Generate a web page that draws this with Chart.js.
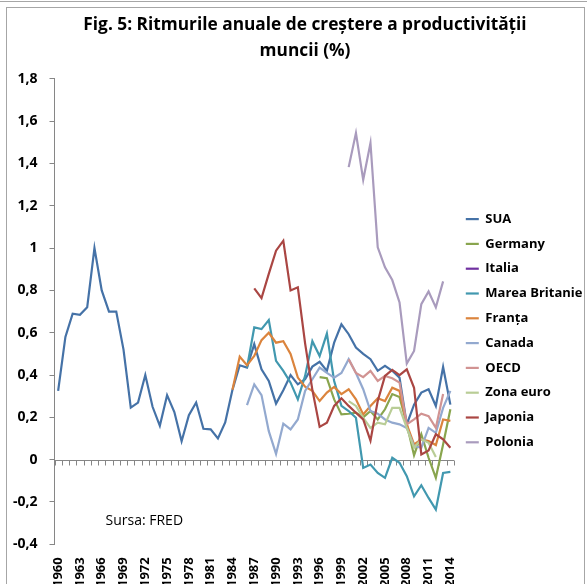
<!DOCTYPE html>
<html>
<head>
<meta charset="utf-8">
<script src="https://cdn.jsdelivr.net/npm/chart.js@4.4.1/dist/chart.umd.min.js"></script>
<style>
  body { margin: 0; background: #fff; }
  #linie { position: absolute; left: 0; top: 0; width: 587px; height: 1px; border-bottom: 1px solid #a6a6a6; }
  #ramka { position: absolute; left: 6px; top: 7px; width: 577px; height: 590px; border: 1px solid #a6a6a6; overflow: hidden; }
  #grafic { position: absolute; left: 0; top: 0; }
</style>
</head>
<body>
<div id="linie"></div>
<div id="ramka"><canvas id="grafic" width="576" height="576"></canvas></div>
<script>
// ani (etichete categorii)
const ani = ['1960','1961','1962','1963','1964','1965','1966','1967','1968','1969',
  '1970','1971','1972','1973','1974','1975','1976','1977','1978','1979',
  '1980','1981','1982','1983','1984','1985','1986','1987','1988','1989',
  '1990','1991','1992','1993','1994','1995','1996','1997','1998','1999',
  '2000','2001','2002','2003','2004','2005','2006','2007','2008','2009',
  '2010','2011','2012','2013','2014'];

// valori, fiecare serie incepe la anul indicat
const sua = [0.325, 0.58, 0.69, 0.685, 0.72, 1.0, 0.80, 0.70, 0.70, 0.52,
  0.246, 0.27, 0.40, 0.25, 0.16, 0.305, 0.225, 0.087, 0.21, 0.27,
  0.146, 0.143, 0.10, 0.176, 0.33, 0.446, 0.435, 0.546, 0.427, 0.372,
  0.265, 0.328, 0.40, 0.356, 0.38, 0.44, 0.463, 0.42, 0.553, 0.64,
  0.593, 0.53, 0.50, 0.475, 0.42, 0.443, 0.42, 0.388, 0.167, 0.26,
  0.317, 0.333, 0.254, 0.438, 0.26];                                  // 1960
const germany = [0.39, 0.385, 0.285, 0.214, 0.217, 0.222, 0.20, 0.23, 0.19, 0.238,
  0.31, 0.296, 0.167, 0.021, 0.12, 0.009, -0.086, 0.072, 0.238];       // 1996
const italia = [];
const mareaBritanie = [0.435, 0.625, 0.617, 0.66, 0.467, 0.42, 0.364, 0.285, 0.396, 0.56,
  0.49, 0.596, 0.372, 0.254, 0.23, 0.198, -0.039, -0.023, -0.063, -0.086,
  0.009, -0.015, -0.078, -0.173, -0.121, -0.181, -0.236, -0.063, -0.058]; // 1986
const franta = [0.33, 0.487, 0.446, 0.49, 0.565, 0.60, 0.553, 0.56, 0.50, 0.388,
  0.345, 0.325, 0.277, 0.317, 0.344, 0.31, 0.333, 0.285, 0.214, 0.254,
  0.29, 0.277, 0.34, 0.325, 0.167, 0.072, 0.096, 0.088, 0.069, 0.19, 0.183]; // 1984
const canada = [0.258, 0.356, 0.305, 0.135, 0.027, 0.17, 0.143, 0.19, 0.325, 0.38,
  0.435, 0.41, 0.388, 0.41, 0.475, 0.41, 0.333, 0.23, 0.217, 0.19,
  0.175, 0.167, 0.15, 0.064, 0.056, 0.15, 0.127, 0.245, 0.325];        // 1986
const oecd = [0.475, 0.41, 0.39, 0.42, 0.372, 0.396, 0.385, 0.364, 0.167, 0.19,
  0.217, 0.206, 0.15, 0.31];                                           // 2000
const zonaEuro = [0.277, 0.254, 0.198, 0.15, 0.175, 0.167, 0.245, 0.245, 0.15, 0.056,
  0.096, 0.08, 0.012];                                                 // 2000
const japonia = [0.81, 0.764, 0.878, 0.988, 1.035, 0.80, 0.815, 0.55, 0.33, 0.155,
  0.175, 0.254, 0.29, 0.254, 0.222, 0.19, 0.09, 0.277, 0.396, 0.424,
  0.40, 0.427, 0.34, 0.025, 0.044, 0.12, 0.096, 0.056];                // 1987
const polonia = [1.383, 1.544, 1.323, 1.497, 1.004, 0.909, 0.849, 0.743, 0.454, 0.514,
  0.735, 0.795, 0.72, 0.843];                                          // 2000

const serii = [
  ['SUA', sua, 1960, '#4572A7'],
  ['Germany', germany, 1996, '#89A54E'],
  ['Italia', italia, 1960, '#7030A0'],
  ['Marea Britanie', mareaBritanie, 1986, '#4198AF'],
  ['Franța', franta, 1984, '#DB843D'],
  ['Canada', canada, 1986, '#93A9CF'],
  ['OECD', oecd, 2000, '#D19392'],
  ['Zona euro', zonaEuro, 2000, '#B9CD96'],
  ['Japonia', japonia, 1987, '#AA4643'],
  ['Polonia', polonia, 2000, '#A99BBD']
];

function aliniaza(valori, start) {
  return ani.map(function(a) {
    const k = parseInt(a) - start;
    return (k >= 0 && k < valori.length) ? valori[k] : null;
  });
}

const font = 'Open Sans';

const axaZero = {
  id: 'axaZero',
  afterLayout(chart) {
    // titlul din Excel e centrat putin mai la dreapta
    chart.titleBlock.left += 26;
  },
  beforeDatasetsDraw(chart) {
    const {ctx, chartArea, scales: {x, y}} = chart;
    const y0 = Math.round(y.getPixelForValue(0)) + 0.5;
    const pas = x.getPixelForValue(1) - x.getPixelForValue(0);
    ctx.save();
    ctx.strokeStyle = '#868686';
    ctx.lineWidth = 1;
    ctx.beginPath();
    ctx.moveTo(chartArea.left, y0);
    ctx.lineTo(chartArea.right, y0);
    for (let i = 0; i <= ani.length; i++) {
      const px = Math.round(x.getPixelForValue(i) - pas / 2) + 0.5;
      ctx.moveTo(px, y0);
      ctx.lineTo(px, y0 + 5);
    }
    ctx.stroke();
    ctx.restore();
  },
  afterDraw(chart) {
    const {ctx, chartArea} = chart;
    ctx.save();
    ctx.fillStyle = '#000';
    ctx.font = '14px "' + font + '"';
    ctx.textBaseline = 'middle';
    ctx.fillText('Sursa: FRED', chartArea.left + 51, chartArea.bottom - 23);
    ctx.restore();
  }
};

const ctx = document.getElementById('grafic').getContext('2d');
new Chart(ctx, {
  type: 'line',
  data: {
    labels: ani,
    datasets: serii.map(function(s, i) {
      return {
        label: s[0],
        data: aliniaza(s[1], s[2]),
        borderColor: s[3],
        backgroundColor: s[3],
        borderWidth: 2.2,
        pointRadius: 0,
        tension: 0,
        order: serii.length - i
      };
    })
  },
  options: {
    responsive: false,
    animation: false,
    layout: { padding: { left: -6, right: 0, top: 0, bottom: -8 } },
    plugins: {
      title: {
        display: true,
        text: ['Fig. 5: Ritmurile anuale de creștere a productivității', 'muncii (%)'],
        color: '#000',
        font: { family: font, size: 17.3, weight: 'bold', lineHeight: 1.5 },
        padding: { top: 4, bottom: 15 }
      },
      legend: {
        position: 'right',
        maxWidth: 129,
        title: { display: true, text: '', font: { size: 12 }, padding: { top: 47, bottom: 0 } },
        labels: {
          usePointStyle: true,
          pointStyle: 'line',
          pointStyleWidth: 13,
          padding: 11.8,
          color: '#000',
          font: { family: font, size: 13, weight: 'bold' },
          sort: function(a, b) { return a.datasetIndex - b.datasetIndex; }
        }
      },
      tooltip: { enabled: false }
    },
    scales: {
      x: {
        offset: true,
        grid: { display: false },
        border: { display: false },
        ticks: {
          autoSkip: false, maxRotation: 90, minRotation: 90, padding: 5,
          color: '#000',
          font: { family: font, size: 13, weight: 'bold' },
          callback: function(v, i) { return i % 3 === 0 ? ani[i] : ''; }
        }
      },
      y: {
        min: -0.4, max: 1.8,
        ticks: {
          stepSize: 0.2, padding: 12, color: '#000',
          font: { family: font, size: 14, weight: 'bold' },
          callback: function(v) { return String(parseFloat(v.toFixed(1))).replace('.', ','); }
        },
        grid: { drawOnChartArea: false, drawTicks: true, tickLength: 5, color: '#868686' },
        border: { color: '#868686' }
      }
    }
  },
  plugins: [axaZero]
});
</script>
</body>
</html>
